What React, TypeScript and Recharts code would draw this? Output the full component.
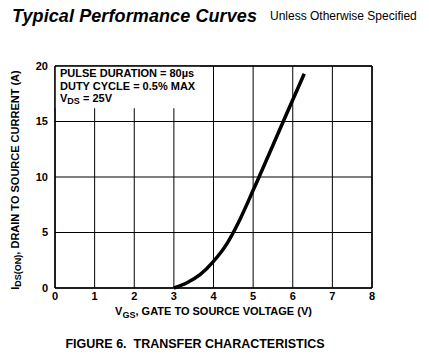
import { LineChart, Line, XAxis, YAxis, CartesianGrid, ReferenceArea, ReferenceLine } from 'recharts'

// gate voltage (V) vs drain current (A)
const vgs = [3.0, 3.32, 3.66, 4.0, 4.34, 4.67, 5.0, 5.1, 5.76, 6.29]
const idsOn = [0, 0.45, 1.2, 2.4, 4.0, 6.2, 8.8, 9.6, 15.0, 19.3]

const xTicks = [0, 1, 2, 3, 4, 5, 6, 7, 8]
const yTicks = [0, 5, 10, 15, 20]

const notes = ['PULSE DURATION = 80\u00b5s', 'DUTY CYCLE = 0.5% MAX']

const data = vgs.map((v, i) => ({ v, i: idsOn[i] }))

const FONT = '"Liberation Sans", Arial, sans-serif'

const YLabel = (props: any) => {
  const { viewBox } = props
  const cx = 16
  const cy = viewBox.y + viewBox.height / 2 + 3
  return (
    <text
      x={cx}
      y={cy}
      transform={`rotate(-90 ${cx} ${cy})`}
      textAnchor="middle"
      dominantBaseline="middle"
      fontFamily={FONT}
      fontSize={11}
      fontWeight="bold"
      fill="#000"
    >
      I<tspan fontSize={9} dy={3}>DS(ON)</tspan>
      <tspan dy={-3}>, DRAIN TO SOURCE CURRENT (A)</tspan>
    </text>
  )
}

const XLabel = (props: any) => {
  const { viewBox } = props
  const cx = viewBox.x + viewBox.width / 2
  return (
    <text x={cx} y={315} textAnchor="middle" fontFamily={FONT} fontSize={11} fontWeight="bold" fill="#000">
      V<tspan fontSize={9} dy={3}>GS</tspan>
      <tspan dy={-3}>, GATE TO SOURCE VOLTAGE (V)</tspan>
    </text>
  )
}

export default function App() {
  return (
    <div style={{ position: 'absolute', left: 0, top: 0, width: 429, height: 356, background: '#fff', fontFamily: FONT }}>
      <div style={{ position: 'absolute', left: 12, top: 6, whiteSpace: 'nowrap', fontSize: 18, fontWeight: 'bold', fontStyle: 'italic', letterSpacing: 0.1 }}>
        Typical Performance Curves
      </div>
      <div style={{ position: 'absolute', left: 270, top: 9, fontSize: 12, whiteSpace: 'nowrap' }}>Unless Otherwise Specified</div>
      <LineChart width={429} height={356} data={data} margin={{ top: 66, right: 57, bottom: 0, left: 0 }}>
        <CartesianGrid stroke="#000" strokeWidth={1} />
        <ReferenceArea x1={0} x2={3.66} y1={16.2} y2={20} fill="#fff" fillOpacity={1} stroke="none" />
        <ReferenceLine y={20} stroke="#000" strokeWidth={1.5} />
        <ReferenceLine x={8} stroke="#000" strokeWidth={1.5} />
        <XAxis
          type="number"
          dataKey="v"
          domain={[0, 8]}
          ticks={xTicks}
          height={68}
          tickSize={0}
          tickMargin={4}
          axisLine={{ stroke: '#000', strokeWidth: 1.5 }}
          tick={{ fill: '#000', fontSize: 11, fontWeight: 'bold', fontFamily: FONT }}
          label={<XLabel />}
        />
        <YAxis
          type="number"
          domain={[0, 20]}
          ticks={yTicks}
          width={55}
          tickSize={0}
          tickMargin={7}
          axisLine={{ stroke: '#000', strokeWidth: 1.5 }}
          tick={{ fill: '#000', fontSize: 11, fontWeight: 'bold', fontFamily: FONT }}
          label={<YLabel />}
        />
        <Line type="monotone" dataKey="i" stroke="#000" strokeWidth={3.5} dot={false} isAnimationActive={false} />
      </LineChart>
      <div style={{ position: 'absolute', left: 60, top: 67, fontSize: 11, fontWeight: 'bold', lineHeight: '12.5px', whiteSpace: 'nowrap' }}>
        {notes.map((n) => (
          <div key={n}>{n}</div>
        ))}
        <div>
          V<sub style={{ fontSize: 9, verticalAlign: '-2px', lineHeight: 0 }}>DS</sub> = 25V
        </div>
      </div>
      <div style={{ position: 'absolute', left: 0, width: 390, top: 337, textAlign: 'center', fontSize: 12.5, fontWeight: 'bold', whiteSpace: 'pre' }}>
        {'FIGURE 6.  TRANSFER CHARACTERISTICS'}
      </div>
    </div>
  )
}
